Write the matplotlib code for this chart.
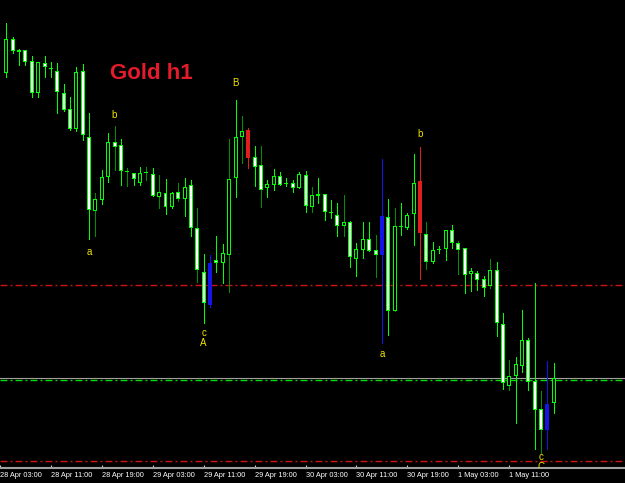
import matplotlib
matplotlib.use("Agg")
import matplotlib.pyplot as plt
import numpy as np

# hourly candles, 28 Apr 04:00 .. 1 May 18:00
opens = [1292.7, 1296.1, 1295.0, 1295.0, 1293.9, 1290.7, 1293.7, 1293.1, 1292.9, 1290.7,
         1289.1, 1287.1, 1292.9, 1286.3, 1278.9, 1280.0, 1282.3, 1285.8, 1285.5, 1282.8,
         1282.7, 1281.7, 1282.7, 1282.6, 1280.3, 1280.7, 1279.3, 1280.8, 1280.1, 1281.5,
         1277.2, 1272.8, 1269.5, 1274.0, 1273.7, 1274.5, 1282.2, 1286.3, 1287.0, 1284.3,
         1283.5, 1281.2, 1281.5, 1282.4, 1281.6, 1281.7, 1281.2, 1282.5, 1279.3, 1280.4,
         1280.6, 1278.7, 1278.5, 1277.4, 1277.8, 1274.1, 1275.0, 1276.1, 1275.0, 1274.5,
         1278.3, 1268.9, 1277.3, 1277.2, 1278.6, 1281.9, 1276.6, 1273.8, 1275.0, 1275.1,
         1277.0, 1275.7, 1275.2, 1272.6, 1272.7, 1272.1, 1271.4, 1273.0, 1267.6, 1261.4,
         1262.4, 1263.4, 1266.0, 1261.9, 1259.1, 1257.0, 1259.7]
highs = [1297.7, 1296.3, 1295.1, 1295.0, 1294.4, 1293.8, 1294.4, 1293.8, 1293.7, 1291.6,
         1290.3, 1293.3, 1293.6, 1288.7, 1280.7, 1283.0, 1286.7, 1287.4, 1286.1, 1283.2,
         1282.7, 1283.3, 1283.3, 1283.2, 1282.5, 1282.1, 1280.8, 1281.7, 1282.2, 1282.0,
         1279.2, 1274.6, 1274.5, 1276.4, 1275.6, 1286.1, 1290.0, 1288.4, 1287.2, 1285.4,
         1285.4, 1282.0, 1283.1, 1282.8, 1282.2, 1282.0, 1282.8, 1282.9, 1281.3, 1282.2,
         1280.6, 1280.0, 1279.7, 1280.5, 1277.9, 1275.7, 1277.8, 1277.8, 1276.5, 1284.1,
         1280.1, 1279.2, 1279.7, 1278.7, 1284.6, 1285.3, 1277.8, 1275.8, 1275.4, 1277.0,
         1277.5, 1275.9, 1275.2, 1273.2, 1272.9, 1272.4, 1274.1, 1273.8, 1268.7, 1264.0,
         1264.3, 1269.0, 1266.2, 1271.7, 1260.9, 1263.9, 1263.7]
lows = [1292.3, 1294.7, 1293.5, 1293.5, 1290.3, 1290.3, 1292.3, 1292.3, 1288.7, 1288.9,
        1287.0, 1286.9, 1286.0, 1276.1, 1276.4, 1279.6, 1281.8, 1283.0, 1281.5, 1281.4,
        1281.5, 1281.5, 1282.0, 1280.4, 1279.2, 1278.6, 1279.2, 1279.9, 1278.4, 1276.4,
        1271.8, 1267.7, 1269.3, 1272.8, 1271.7, 1270.8, 1280.3, 1283.7, 1283.2, 1281.4,
        1279.3, 1280.3, 1281.0, 1281.5, 1281.4, 1280.8, 1281.2, 1278.8, 1278.8, 1279.7,
        1278.0, 1278.2, 1276.4, 1276.4, 1273.3, 1272.4, 1274.2, 1274.9, 1272.3, 1265.7,
        1266.5, 1268.9, 1276.5, 1277.1, 1275.5, 1272.1, 1273.1, 1273.7, 1274.7, 1274.0,
        1275.2, 1272.6, 1270.7, 1270.9, 1271.0, 1270.4, 1271.2, 1266.4, 1261.1, 1261.0,
        1257.7, 1262.8, 1261.0, 1255.1, 1254.7, 1255.1, 1258.7]
closes = [1296.1, 1294.9, 1294.8, 1293.8, 1290.7, 1293.8, 1293.3, 1293.1, 1290.8, 1289.0,
          1287.1, 1292.8, 1286.5, 1279.0, 1280.1, 1282.3, 1285.8, 1285.3, 1282.9, 1282.8,
          1282.1, 1282.7, 1282.7, 1280.4, 1280.8, 1279.3, 1280.7, 1280.1, 1281.3, 1277.2,
          1273.0, 1269.7, 1273.7, 1273.7, 1274.7, 1282.1, 1286.3, 1286.9, 1284.2, 1283.3,
          1281.0, 1281.6, 1282.4, 1281.5, 1281.6, 1281.2, 1282.6, 1279.4, 1280.5, 1280.6,
          1278.8, 1278.7, 1277.4, 1277.8, 1274.3, 1275.1, 1276.1, 1274.9, 1274.5, 1278.4,
          1268.9, 1277.4, 1277.3, 1278.5, 1281.7, 1276.7, 1273.8, 1275.0, 1275.0, 1277.0,
          1275.7, 1275.0, 1272.5, 1272.9, 1272.0, 1271.2, 1273.0, 1267.7, 1261.7, 1262.4,
          1263.6, 1266.0, 1261.8, 1259.0, 1257.0, 1259.6, 1262.2]

# candles painted by the wave indicator
painted = {32: "blue", 38: "red", 59: "blue", 65: "red", 85: "blue"}
# candles whose shadow is drawn in darker green
dark_wicks = [14, 17, 19, 22, 24, 27, 30, 35, 37, 40, 48, 53, 58, 61, 66, 71, 76, 79, 84]

# wave labels: candle, text, side, offset in pixels
wave_labels = [(13, "a", "low", 13), (17, "b", "high", 11), (31, "c", "low", 10),
               (31, "A", "low", 20), (36, "B", "high", 17), (59, "a", "low", 11),
               (65, "b", "high", 13), (84, "c", "low", 4), (84, "C", "low", 14)]

red_levels = [1271.5, 1253.9]
gray_level = 1262.2
green_level = 1262.0

tick_pos = [-1, 7, 15, 23, 31, 39, 47, 55, 63, 71, 79]
tick_labels = ["28 Apr 03:00", "28 Apr 11:00", "28 Apr 19:00", "29 Apr 03:00",
               "29 Apr 11:00", "29 Apr 19:00", "30 Apr 03:00", "30 Apr 11:00",
               "30 Apr 19:00", "1 May 03:00", "1 May 11:00"]

LIME = "#00ff00"
DARK = "#009000"
COLORS = {"blue": "#1414e6", "red": "#e01e1e"}

PX_X = 1 / 6.395   # one pixel in bar units
PX_Y = 0.1         # one pixel in price units

fig = plt.figure(figsize=(6.25, 4.83), dpi=100, facecolor="black")
ax = fig.add_axes([0, 15 / 483, 1, 468 / 483], facecolor="black")

o = np.array(opens)
h = np.array(highs)
l = np.array(lows)
c = np.array(closes)
x = np.arange(len(o))

wick_colors = []
for i in x:
    if i in painted:
        wick_colors.append(COLORS[painted[i]])
    elif i in dark_wicks:
        wick_colors.append(DARK)
    else:
        wick_colors.append(LIME)
ax.vlines(x, l, h, colors=wick_colors, linewidth=0.72, antialiased=False, zorder=2)

# outer body (lime frame or indicator colour)
outer = []
inner = []
for i in x:
    if i in painted:
        outer.append(COLORS[painted[i]])
        inner.append(COLORS[painted[i]])
    elif c[i] < o[i]:
        outer.append(LIME)
        inner.append("white")
    else:
        outer.append(LIME)
        inner.append("black")

bottom = np.minimum(o, c)
height = np.maximum(np.abs(c - o), PX_Y)
b1 = ax.bar(x, height, bottom=bottom, width=4 * PX_X, color=outer, linewidth=0, zorder=3)
in_h = np.maximum(height - 2 * PX_Y, 0)
b2 = ax.bar(x, in_h, bottom=bottom + PX_Y, width=2 * PX_X, color=inner, linewidth=0, zorder=4)
for b in list(b1) + list(b2):
    b.set_antialiased(False)

# levels
for lv in red_levels:
    ax.axhline(lv, color="#d01414", linewidth=1.0, dashes=(5, 2.2, 1.4, 2.2), zorder=1)
ax.axhline(gray_level, color="#a0a0a0", linewidth=0.8, zorder=1)
ax.axhline(green_level, color="#00e000", linewidth=1.0, dashes=(5, 2.2, 1.4, 2.2), zorder=1)

# wave labels
for i, txt, side, off in wave_labels:
    if side == "low":
        y = l[i] - off * PX_Y
    else:
        y = h[i] + off * PX_Y
    ax.text(i, y, txt, color="#f2e400", fontsize=7, family="Liberation Sans",
            ha="center", va="center", clip_on=True, zorder=5)

ax.set_xlim(-3.5 * PX_X, (625 - 3.5) * PX_X)
ax.set_ylim(1300 - 468 * PX_Y, 1300)
ax.set_yticks([])

ax.set_xticks(tick_pos)
ax.set_xticklabels(tick_labels, color="white", fontsize=5.3, family="Liberation Sans")
for lab in ax.get_xticklabels():
    lab.set_horizontalalignment("left")
ax.tick_params(axis="x", direction="in", length=2.5, width=0.8, color="#d0d0d0", pad=3)

for side in ["top", "left", "right"]:
    ax.spines[side].set_visible(False)
ax.spines["bottom"].set_color("#a0a0a0")
ax.spines["bottom"].set_linewidth(1.5)

fig.text(110 / 625, 1 - 79 / 483, "Gold h1", color="#e31b2b", fontsize=16,
         fontweight="bold", family="Liberation Sans", ha="left", va="baseline")

fig.savefig("out.png", dpi=100, facecolor="black")
